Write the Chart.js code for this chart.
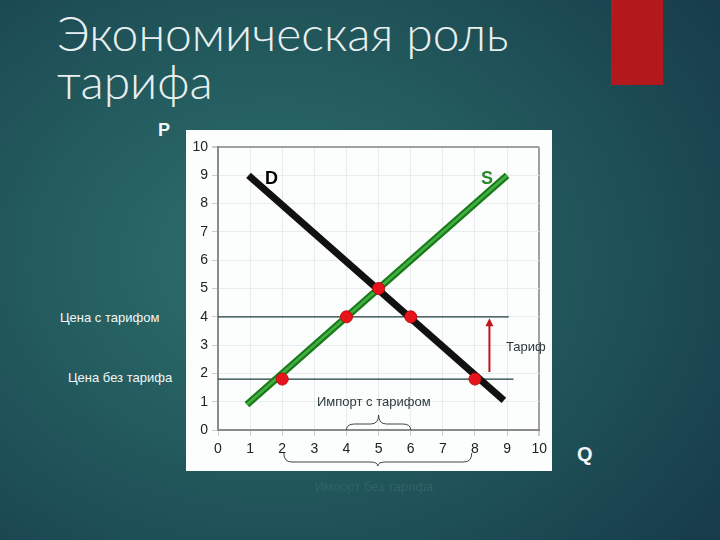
<!DOCTYPE html>
<html>
<head>
<meta charset="utf-8">
<script src="https://cdn.jsdelivr.net/npm/chart.js@4/dist/chart.umd.min.js"></script>
<style>
  html, body { margin: 0; padding: 0; }
  body {
    width: 720px; height: 540px; overflow: hidden; position: relative;
    background: radial-gradient(ellipse 75% 80% at 38% 48%, #2f706c 0%, #235b5e 45%, #173d4b 100%);
    font-family: "Liberation Sans", Arial, sans-serif;
  }
  .title {
    position: absolute; left: 57px; top: 9px;
    font-family: Lato, "Open Sans", sans-serif; font-weight: 300;
    font-size: 48px; line-height: 48px; color: #e9eff0;
  }
  .redbox { position: absolute; left: 611px; top: 0; width: 52px; height: 85px; background: #b3181c; }
  .panel { position: absolute; left: 186px; top: 130px; width: 366px; height: 341px; background: #fcfefe; }
  .lbl { position: absolute; white-space: nowrap; font-size: 13px; line-height: 16px; }
  .w { color: #f2f6f6; }
  .d { color: #2b3a3c; }
  .big { font-weight: bold; font-size: 18px; line-height: 20px; }
</style>
</head>
<body>
<div class="title">Экономическая роль<br>тарифа</div>
<div class="redbox"></div>
<div class="panel"><canvas id="chart" width="366" height="341"></canvas></div>

<div class="lbl big w" style="left:158px; top:120px;">P</div>
<div class="lbl big w" style="left:577px; top:444px; font-size:20px;">Q</div>
<div class="lbl big" style="left:265px; top:168px; color:#000;">D</div>
<div class="lbl big" style="left:481px; top:168px; color:#2a8a2a;">S</div>
<div class="lbl w" style="left:60px; top:310px;">Цена с тарифом</div>
<div class="lbl w" style="left:68px; top:370px;">Цена без тарифа</div>
<div class="lbl d" style="left:506px; top:339px;">Тариф</div>
<div class="lbl d" style="left:317px; top:394px;">Импорт с тарифом</div>
<div class="lbl" style="left:315px; top:479px; color:#2f6466;">Импорт без тарифа</div>

<script>
// шкалы
const qTicks = [0, 1, 2, 3, 4, 5, 6, 7, 8, 9, 10];
const pTicks = [0, 1, 2, 3, 4, 5, 6, 7, 8, 9, 10];

// кривые спроса и предложения
const demandQ = [0.95, 8.9];
const demandP = [9, 1.05];
const supplyQ = [0.9, 9];
const supplyP = [0.9, 9];

// цены
const priceWithTariff = 4;
const priceNoTariff = 1.8;
const tariffLineEnd = [9.05, 9.2];

// точки пересечения
const pointQ = [5, 4, 6, 2, 8];
const pointP = [5, 4, 4, 1.8, 1.8];

// стрелка тарифа и скобки импорта
const arrowQ = 8.45;
const importWithTariff = [4, 6];
const importNoTariff = [2.05, 7.9];

const toXY = (xs, ys) => xs.map((x, i) => ({ x: x, y: ys[i] }));

const drawBrace = (ctx, x1, x2, yBase, yMid, yTip) => {
  const xc = (x1 + x2) / 2;
  const r = Math.min(8, (x2 - x1) / 6);
  ctx.beginPath();
  ctx.moveTo(x1, yBase);
  ctx.quadraticCurveTo(x1, yMid, x1 + r, yMid);
  ctx.lineTo(xc - r, yMid);
  ctx.quadraticCurveTo(xc, yMid, xc, yTip);
  ctx.quadraticCurveTo(xc, yMid, xc + r, yMid);
  ctx.lineTo(x2 - r, yMid);
  ctx.quadraticCurveTo(x2, yMid, x2, yBase);
  ctx.stroke();
};

const extras = {
  id: 'extras',
  afterDatasetsDraw(chart) {
    const ctx = chart.ctx;
    const xs = chart.scales.x, ys = chart.scales.y;
    ctx.save();
    // стрелка
    const ax = xs.getPixelForValue(arrowQ);
    const y0 = ys.getPixelForValue(priceNoTariff + 0.25);
    const y1 = ys.getPixelForValue(priceWithTariff - 0.05);
    ctx.strokeStyle = '#c0141c';
    ctx.fillStyle = '#c0141c';
    ctx.lineWidth = 2;
    ctx.beginPath();
    ctx.moveTo(ax, y0);
    ctx.lineTo(ax, y1 + 6);
    ctx.stroke();
    ctx.beginPath();
    ctx.moveTo(ax, y1);
    ctx.lineTo(ax - 4, y1 + 8);
    ctx.lineTo(ax + 4, y1 + 8);
    ctx.closePath();
    ctx.fill();
    // скобки
    ctx.strokeStyle = '#3a4446';
    ctx.lineWidth = 1;
    const base = ys.getPixelForValue(0);
    drawBrace(ctx, xs.getPixelForValue(importWithTariff[0]), xs.getPixelForValue(importWithTariff[1]),
      base, base - 6, base - 15);
    drawBrace(ctx, xs.getPixelForValue(importNoTariff[0]), xs.getPixelForValue(importNoTariff[1]),
      base + 23, base + 32, base + 36);
    ctx.restore();
  }
};

const gridColor = c => c.tick && c.tick.value === 10 ? '#a0a0a0' : '#e9ecec';
const gridWidth = c => c.tick && c.tick.value === 10 ? 2 : 1;

new Chart(document.getElementById('chart'), {
  type: 'scatter',
  data: {
    datasets: [
      {
        data: toXY(pointQ, pointP), showLine: false,
        pointRadius: 6, pointBackgroundColor: '#e8141c', pointBorderColor: '#b80e12', pointBorderWidth: 1,
        order: 0
      },
      {
        data: toXY(supplyQ, supplyP), showLine: true, borderColor: '#43b043', borderWidth: 2.5,
        pointRadius: 0, order: 1
      },
      {
        data: toXY(supplyQ, supplyP), showLine: true, borderColor: '#1a7a1a', borderWidth: 7,
        pointRadius: 0, order: 2
      },
      {
        data: toXY(demandQ, demandP), showLine: true, borderColor: '#111111', borderWidth: 7,
        pointRadius: 0, order: 3
      },
      {
        data: [{ x: 0, y: priceWithTariff }, { x: tariffLineEnd[0], y: priceWithTariff }], showLine: true,
        borderColor: '#1f3c3c', borderWidth: 1.2, pointRadius: 0, order: 4
      },
      {
        data: [{ x: 0, y: priceNoTariff }, { x: tariffLineEnd[1], y: priceNoTariff }], showLine: true,
        borderColor: '#1f3c3c', borderWidth: 1.2, pointRadius: 0, order: 4
      }
    ]
  },
  options: {
    responsive: false,
    animation: false,
    layout: { padding: { left: 0, top: 17, right: 10, bottom: 0 } },
    plugins: { legend: { display: false }, tooltip: { enabled: false } },
    scales: {
      x: {
        type: 'linear', min: 0, max: 10,
        afterFit: s => { s.height = 41; },
        afterBuildTicks: s => { s.ticks = qTicks.map(v => ({ value: v })); },
        grid: { color: gridColor, lineWidth: gridWidth, tickLength: 6, tickColor: '#cccccc' },
        border: { color: '#8a8a8a', width: 2 },
        ticks: { padding: 5, color: '#222', font: { family: 'Liberation Sans', size: 14 }, maxRotation: 0 }
      },
      y: {
        type: 'linear', min: 0, max: 10,
        afterFit: s => { s.width = 32; },
        afterBuildTicks: s => { s.ticks = pTicks.map(v => ({ value: v })); },
        grid: { color: gridColor, lineWidth: gridWidth, tickLength: 6, tickColor: '#cccccc' },
        border: { color: '#8a8a8a', width: 2 },
        ticks: { padding: 4, color: '#222', font: { family: 'Liberation Sans', size: 14 } }
      }
    }
  },
  plugins: [extras]
});
</script>
</body>
</html>
